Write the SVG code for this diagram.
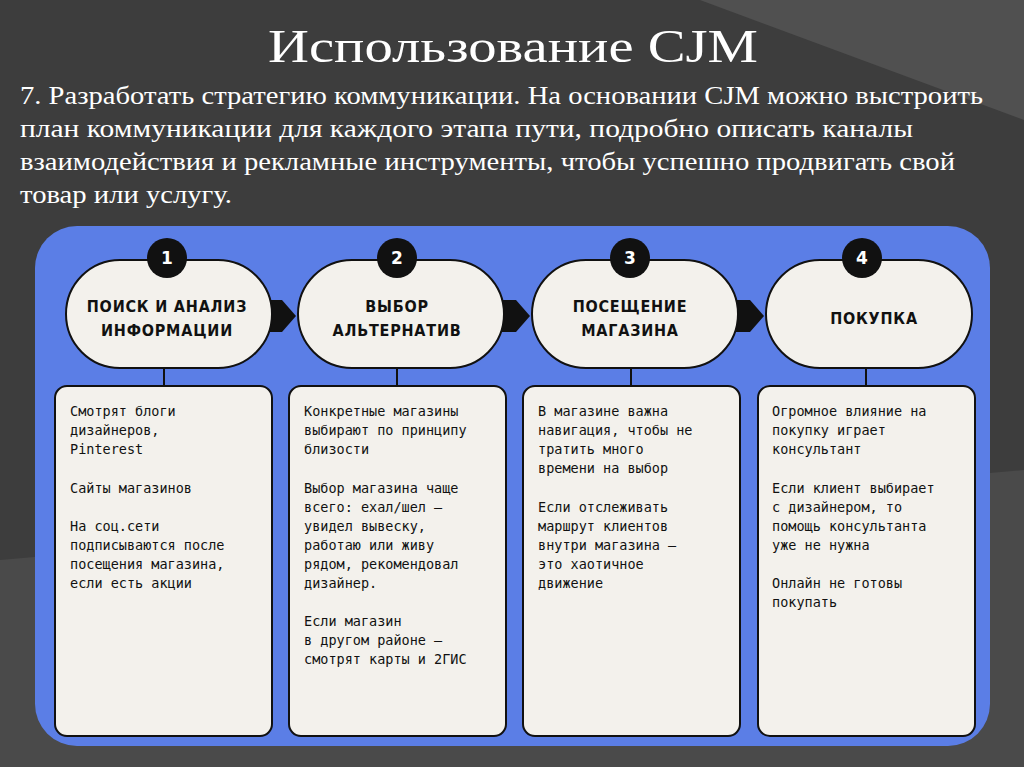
<svg xmlns="http://www.w3.org/2000/svg" width="1024" height="767" viewBox="0 0 1024 767">
<style>
.pill{fill:#f3f1ec;stroke:#111;stroke-width:2}
.card{fill:#f3f1ec;stroke:#111;stroke-width:2}
.num{fill:#111}
.nt{font-family:"DejaVu Sans",sans-serif;font-weight:bold;font-size:17px;fill:#fff;text-anchor:middle}
.pt{font-family:"DejaVu Sans Condensed","DejaVu Sans",sans-serif;font-weight:bold;font-size:16px;fill:#111;text-anchor:middle;letter-spacing:0.8px}
.ct{font-family:"DejaVu Sans Mono","Liberation Mono",monospace;font-size:13.5px;fill:#111}
.ttl{font-family:"Liberation Serif",serif;fill:#fff}
</style>
<rect width="1024" height="767" fill="#3d3d3d"/>
<path d="M0 560 L1024 470 L1024 767 L0 767Z" fill="#4a4a4a"/>
<path d="M700 0 L1024 120 L1024 0Z" fill="#505050"/>
<text class="ttl" x="268" y="62" font-size="46" textLength="490" lengthAdjust="spacingAndGlyphs">Использование CJM</text>
<g class="ttl" font-size="25">
<text x="20" y="104" textLength="963" lengthAdjust="spacingAndGlyphs">7. Разработать стратегию коммуникации. На основании CJM можно выстроить</text>
<text x="20" y="137" textLength="893" lengthAdjust="spacingAndGlyphs">план коммуникации для каждого этапа пути, подробно описать каналы</text>
<text x="20" y="170" textLength="935" lengthAdjust="spacingAndGlyphs">взаимодействия и рекламные инструменты, чтобы успешно продвигать свой</text>
<text x="20" y="203" textLength="212" lengthAdjust="spacingAndGlyphs">товар или услугу.</text>
</g>
<rect x="35" y="226" width="955" height="520" rx="42" fill="#5b7ee6"/>
<g id="connectors" fill="#111" stroke="#111" stroke-width="2">
<path d="M268 300 L282 300 L296 316 L282 332 L268 332Z" stroke="none"/>
<path d="M502 300 L516 300 L530 316 L516 332 L502 332Z" stroke="none"/>
<path d="M736 300 L750 300 L764 316 L750 332 L736 332Z" stroke="none"/>
<line x1="164" y1="368" x2="164" y2="387"/>
<line x1="397" y1="368" x2="397" y2="387"/>
<line x1="631" y1="368" x2="631" y2="387"/>
<line x1="866" y1="368" x2="866" y2="387"/>
</g>
<g id="n1"><rect class="pill" x="66" y="260" width="206" height="108" rx="54"/><circle class="num" cx="167" cy="258" r="20"/><text class="nt" x="167" y="264">1</text><text class="pt" x="167" y="312">ПОИСК И АНАЛИЗ</text><text class="pt" x="167" y="336">ИНФОРМАЦИИ</text></g>
<g id="n2"><rect class="pill" x="298" y="260" width="206" height="108" rx="54"/><circle class="num" cx="397" cy="258" r="20"/><text class="nt" x="397" y="264">2</text><text class="pt" x="397" y="312">ВЫБОР</text><text class="pt" x="397" y="336">АЛЬТЕРНАТИВ</text></g>
<g id="n3"><rect class="pill" x="532" y="260" width="206" height="108" rx="54"/><circle class="num" cx="630" cy="258" r="20"/><text class="nt" x="630" y="264">3</text><text class="pt" x="630" y="312">ПОСЕЩЕНИЕ</text><text class="pt" x="630" y="336">МАГАЗИНА</text></g>
<g id="n4"><rect class="pill" x="766" y="260" width="206" height="108" rx="54"/><circle class="num" cx="862" cy="258" r="20"/><text class="nt" x="862" y="264">4</text><text class="pt" x="874" y="324">ПОКУПКА</text></g>
<g id="c1"><rect class="card" x="55" y="386" width="217" height="350" rx="12"/>
<g class="ct"><text x="70" y="416">Смотрят блоги</text><text x="70" y="435">дизайнеров,</text><text x="70" y="454">Pinterest</text><text x="70" y="493">Сайты магазинов</text><text x="70" y="531">На соц.сети</text><text x="70" y="550">подписываются после</text><text x="70" y="569">посещения магазина,</text><text x="70" y="588">если есть акции</text></g></g>
<g id="c2"><rect class="card" x="289" y="386" width="217" height="350" rx="12"/>
<g class="ct"><text x="304" y="416">Конкретные магазины</text><text x="304" y="435">выбирают по принципу</text><text x="304" y="454">близости</text><text x="304" y="493">Выбор магазина чаще</text><text x="304" y="512">всего: ехал/шел —</text><text x="304" y="531">увидел вывеску,</text><text x="304" y="550">работаю или живу</text><text x="304" y="569">рядом, рекомендовал</text><text x="304" y="588">дизайнер.</text><text x="304" y="626">Если магазин</text><text x="304" y="645">в другом районе —</text><text x="304" y="664">смотрят карты и 2ГИС</text></g></g>
<g id="c3"><rect class="card" x="523" y="386" width="217" height="350" rx="12"/>
<g class="ct"><text x="538" y="416">В магазине важна</text><text x="538" y="435">навигация, чтобы не</text><text x="538" y="454">тратить много</text><text x="538" y="473">времени на выбор</text><text x="538" y="512">Если отслеживать</text><text x="538" y="531">маршрут клиентов</text><text x="538" y="550">внутри магазина —</text><text x="538" y="569">это хаотичное</text><text x="538" y="588">движение</text></g></g>
<g id="c4"><rect class="card" x="758" y="386" width="217" height="350" rx="12"/>
<g class="ct"><text x="772" y="416">Огромное влияние на</text><text x="772" y="435">покупку играет</text><text x="772" y="454">консультант</text><text x="772" y="493">Если клиент выбирает</text><text x="772" y="512">с дизайнером, то</text><text x="772" y="531">помощь консультанта</text><text x="772" y="550">уже не нужна</text><text x="772" y="588">Онлайн не готовы</text><text x="772" y="607">покупать</text></g></g>
</svg>
